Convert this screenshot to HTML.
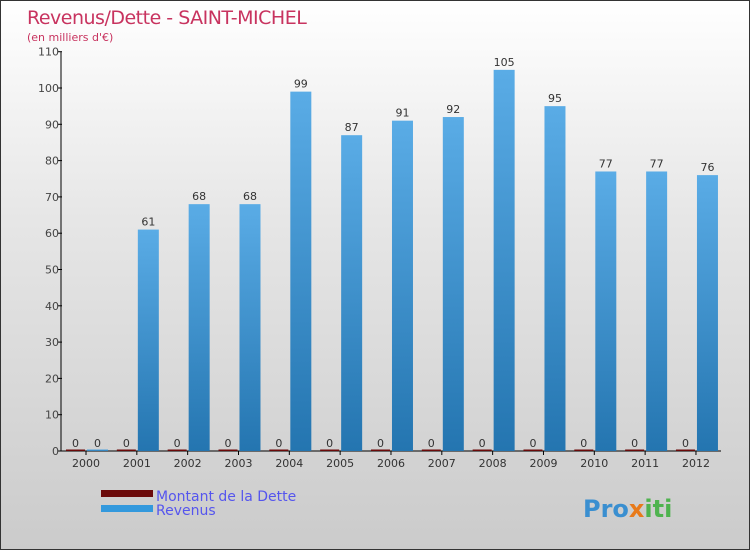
<!DOCTYPE html>
<html><head><meta charset="utf-8"><style>
body{margin:0}
#c{position:relative;width:748px;height:548px;border:1px solid #333;background:linear-gradient(#fff,#e6e6e6 40%,#cbcbcb);overflow:hidden;font-family:"DejaVu Sans","Liberation Sans",sans-serif}
svg{position:absolute;left:0;top:0}
</style></head><body>
<div id="c">
<svg id="s" width="750" height="550">
<defs>
<linearGradient id="gb" x1="0" y1="0" x2="0" y2="1"><stop offset="0" stop-color="#5aace6"/><stop offset="1" stop-color="#2475b0"/></linearGradient>
</defs>
<text x="26" y="23" font-size="19" fill="#c8335f" style="letter-spacing:-0.5px">Revenus/Dette - SAINT-MICHEL</text>
<text x="26" y="40" font-size="11" fill="#c8335f">(en milliers d'€)</text>
<g id="plot"></g>
<rect x="100" y="489" width="52" height="7" fill="#6b0a0a"/>
<text x="155" y="500" font-size="14" fill="#5555ee">Montant de la Dette</text>
<rect x="100" y="504" width="52" height="7" fill="#3399dd"/>
<text x="155" y="514" font-size="14" fill="#5555ee">Revenus</text>
<text x="582" y="516" font-size="24" font-weight="bold" fill="#3a8fd0">Pro<tspan fill="#e87a1a">x</tspan><tspan fill="#4fb34f">iti</tspan></text>
</svg>
</div>
<script>
const years=["2000","2001","2002","2003","2004","2005","2006","2007","2008","2009","2010","2011","2012"];
const dette=[0,0,0,0,0,0,0,0,0,0,0,0,0];
const revenus=[0,61,68,68,99,87,91,92,105,95,77,77,76];
const yTicks=[0,10,20,30,40,50,60,70,80,90,100,110];
const NS="http://www.w3.org/2000/svg";
const g=document.getElementById('plot');
const y=v=>450-v*3.63;
const xc=i=>85+i*50.83;
function mk(t,a){const e=document.createElementNS(NS,t);for(const k in a)e.setAttribute(k,a[k]);g.appendChild(e);return e;}
let e;
e=mk('line',{x1:60,y1:y(110),x2:60,y2:450,stroke:'#000'});


e=mk('line',{x1:60,y1:450,x2:720,y2:450,stroke:'#000'});


yTicks.forEach(v=>{
 e=mk('line',{x1:57,y1:y(v),x2:61,y2:y(v),stroke:'#000'});
 
 
 e=mk('text',{x:58,y:y(v)+4,'font-size':11,fill:'#444','text-anchor':'end'});e.textContent=v;
 
 
});
years.forEach((yr,i)=>{
 const c=xc(i);
 e=mk('line',{x1:c,y1:450,x2:c,y2:454,stroke:'#000'});
 
 
 e=mk('text',{x:c,y:466,'font-size':11,fill:'#333','text-anchor':'middle'});e.textContent=yr;
 
 
 const hd=Math.max(1.5,450-y(dette[i]));
 e=mk('rect',{x:c-20,y:450-hd,width:19,height:hd,fill:'#6b0a0a'});
 
 
 e=mk('text',{x:c-10.5,y:y(dette[i])-4,'font-size':11,fill:'#333','text-anchor':'middle'});e.textContent=dette[i];
 
 
 const hr=Math.max(1.5,450-y(revenus[i]));
 e=mk('rect',{x:c+1,y:450-hr,width:21,height:hr,fill:'url(#gb)'});
 
 
 e=mk('text',{x:c+11.5,y:y(revenus[i])-4,'font-size':11,fill:'#333','text-anchor':'middle'});e.textContent=revenus[i];
 
 
});
</script>
</body></html>
